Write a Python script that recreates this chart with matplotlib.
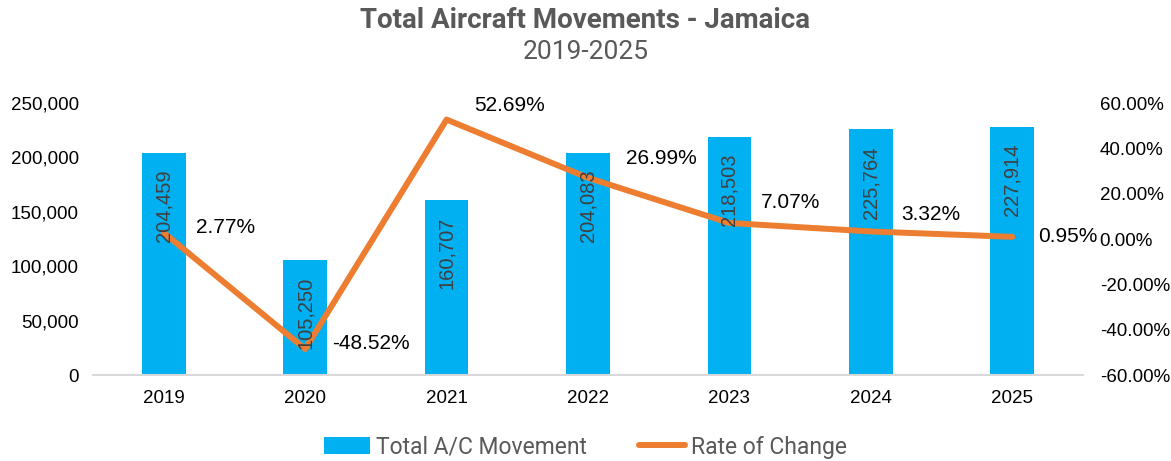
import matplotlib
matplotlib.use("Agg")
import matplotlib.pyplot as plt
from matplotlib.ticker import FuncFormatter, MultipleLocator

# Data for the chart
years = ["2019", "2020", "2021", "2022", "2023", "2024", "2025"]
movements = [204459, 105250, 160707, 204083, 218503, 225764, 227914]
rate_of_change = [2.77, -48.52, 52.69, 26.99, 7.07, 3.32, 0.95]
# pixel offsets of the percentage labels from their points
pct_offsets = [(62, 5), (66, 5), (63, 14), (73, 19), (61, 20), (60, 17), (56, 0)]

bar_color = "#00B0F0"
line_color = "#ED7D31"
text_gray = "#595959"

plt.rcParams["font.family"] = ["Liberation Sans", "DejaVu Sans"]

fig = plt.figure(figsize=(11.71, 4.61), dpi=100)
ax = fig.add_axes([93 / 1171, 1 - 375 / 461, (1083 - 93) / 1171, (375 - 103) / 461])
x = list(range(len(years)))

bars = ax.bar(x, movements, width=0.31, color=bar_color, zorder=2)
ax.set_xlim(-0.5, len(years) - 0.5)
ax.set_ylim(0, 250000)
ax.yaxis.set_major_locator(MultipleLocator(50000))
ax.yaxis.set_major_formatter(FuncFormatter(lambda v, p: f"{int(v):,}"))
ax.set_xticks(x)
ax.set_xticklabels(years)

for side in ["top", "right", "left"]:
    ax.spines[side].set_visible(False)
ax.spines["bottom"].set_color("#D9D9D9")
ax.spines["bottom"].set_linewidth(1.5)
ax.tick_params(axis="both", length=0, labelsize=13.5, colors="black")
ax.tick_params(axis="y", pad=10)
ax.tick_params(axis="x", pad=11)

ax2 = ax.twinx()
ax2.plot(x, rate_of_change, color=line_color, linewidth=4.3, solid_capstyle="round",
         zorder=3)
ax2.set_ylim(-60, 60)
ax2.yaxis.set_major_locator(MultipleLocator(20))
ax2.yaxis.set_major_formatter(FuncFormatter(lambda v, p: f"{v:.2f}%"))
for side in ["top", "right", "left", "bottom"]:
    ax2.spines[side].set_visible(False)
ax2.tick_params(axis="y", length=0, labelsize=13.5, pad=12, colors="black")

# value labels inside the top of each bar, drawn over the line
for xi, val in zip(x, movements):
    ax2.annotate(f"{val:,}", (xi, val), xycoords=ax.transData, xytext=(0, -12),
                 textcoords="offset points", rotation=90, ha="center", va="top",
                 fontsize=14.5, color="#404040", zorder=5)

for xi, val, (dx, dy) in zip(x, rate_of_change, pct_offsets):
    ax2.annotate(f"{val:.2f}%", (xi, val), xytext=(dx * 0.72, dy * 0.72),
                 textcoords="offset points", ha="center", va="center", fontsize=15,
                 color="black", zorder=5)

fig.text(0.5, 1 - 20 / 461, "Total Aircraft Movements - Jamaica", ha="center", va="center",
         fontsize=20, fontweight="bold", color=text_gray, family=["Roboto", "DejaVu Sans"])
fig.text(0.5, 1 - 52 / 461, "2019-2025", ha="center", va="center", fontsize=19,
         color=text_gray, family=["Roboto", "DejaVu Sans"])

handles = [bars, ax2.lines[0]]
leg = fig.legend(handles, ["Total A/C Movement", "Rate of Change"], loc="center",
                 bbox_to_anchor=(0.5, 1 - 447 / 461), ncol=2, frameon=False,
                 handlelength=2.0, handletextpad=0.25, columnspacing=2.3,
                 prop={"family": ["Roboto", "DejaVu Sans"], "size": 16.5})
for t in leg.get_texts():
    t.set_color(text_gray)

fig.savefig("out.png", dpi=100)
